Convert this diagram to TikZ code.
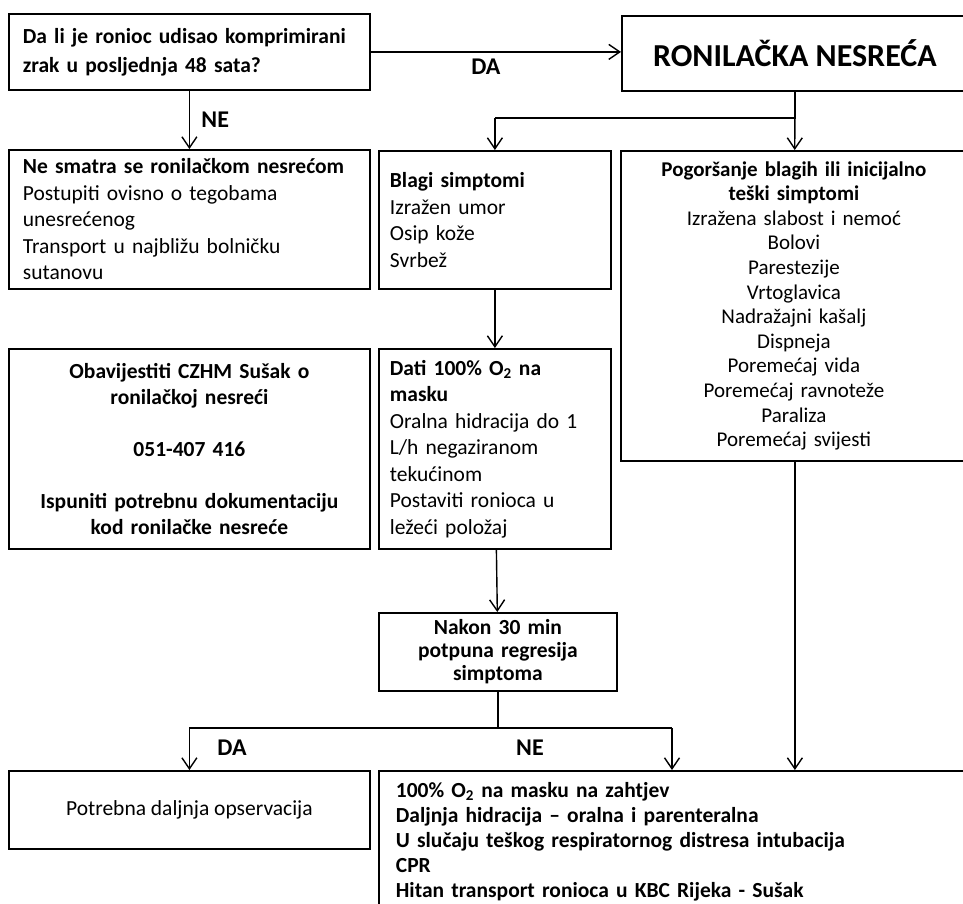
\documentclass[tikz,border=0pt]{standalone}
\usepackage{fontspec}
\setmainfont{Carlito}
\usetikzlibrary{shapes,arrows.meta,positioning}

\begin{document}
\begin{tikzpicture}[x=1pt,y=1pt]
 \tikzset{main node/.style={rectangle, draw, line width=1.8pt,
 		inner xsep=14pt, inner ysep=4pt, font=\fontsize{21.5}{26.5}\selectfont}, }
 \tikzset{left node/.style={main node, align=left}, }
 \tikzset{center node/.style={main node, align=center}, }
 \tikzset{title node/.style={main node, align=center,
 		font=\fontsize{32}{38}\selectfont\bfseries}, }
 \tikzset{label node/.style={font=\fontsize{24}{28}\selectfont\bfseries}, }
 \tikzset{linea/.style={line width=1.4pt,
 		-{Straight Barb[length=11pt,width=15pt,line width=1.4pt]}},}
 \useasboundingbox (0,0) rectangle (963,-903);
 \node[left node, minimum width=361, minimum height=76,
 	text width=333, anchor=north west, font=\fontsize{21.5}{29}\selectfont\bfseries]
 	(1) at (8,-13)
 	{Da li je ronioc udisao komprimirani\\ zrak u posljednja 48 sata?};
 \node[title node, minimum width=346, minimum height=75,
 	anchor=north west] (2) at (621,-15) {RONILAČKA NESREĆA};
 \node[left node, minimum width=361, minimum height=139,
 	text width=333, anchor=north west] (3) at (8,-149)
 	{\textbf{Ne smatra se ronilačkom nesrećom}\\
 	 Postupiti ovisno o tegobama\\ unesrećenog\\
 	 Transport u najbližu bolničku\\ sutanovu};
 \node[left node, minimum width=232, minimum height=138, inner xsep=11pt,
 	text width=210, anchor=north west] (4) at (378,-150)
 	{\textbf{Blagi simptomi}\\ Izražen umor\\ Osip kože\\ Svrbež};
 \node[center node, minimum width=346, minimum height=310,
 	text width=318, anchor=north west, font=\fontsize{21}{24.6}\selectfont]
 	(5) at (620,-150)
 	{\textbf{Pogoršanje blagih ili inicijalno}\\ \textbf{teški simptomi}\\
 	 Izražena slabost i nemoć\\ Bolovi\\ Parestezije\\ Vrtoglavica\\
 	 Nadražajni kašalj\\ Dispneja\\ Poremećaj vida\\
 	 Poremećaj ravnoteže\\ Paraliza\\ Poremećaj svijesti};
 \node[center node, minimum width=361, minimum height=200,
 	text width=333, anchor=north west, font=\fontsize{21.5}{26}\selectfont\bfseries]
 	(6) at (8,-348)
 	{Obavijestiti CZHM Sušak o\\ ronilačkoj nesreći\\[26pt]
 	 051-407 416\\[26pt]
 	 Ispuniti potrebnu dokumentaciju\\ kod ronilačke nesreće};
 \node[left node, minimum width=232, minimum height=200, inner xsep=11pt,
 	text width=210, anchor=north west] (7) at (378,-348)
 	{\textbf{Dati 100\% O\textsubscript{2} na}\\ \textbf{masku}\\
 	 Oralna hidracija do 1\\ L/h negaziranom\\ tekućinom\\
 	 Postaviti ronioca u\\ ležeći položaj};
 \node[center node, minimum width=232, minimum height=78,
 	text width=210, anchor=north west, font=\fontsize{21.5}{23}\selectfont\bfseries]
 	(8) at (378,-612)
 	{Nakon 30 min\\ potpuna regresija\\ simptoma};
 \node[center node, minimum width=361, minimum height=78,
 	anchor=north west] (9) at (8,-770) {Potrebna daljnja opservacija};
 \node[left node, minimum width=590, minimum height=142, inner xsep=16pt,
 	text width=556, anchor=north west, font=\fontsize{21.5}{25}\selectfont\bfseries]
 	(10) at (378,-770)
 	{100\% O\textsubscript{2} na masku na zahtjev\\
 	 Daljnja hidracija -- oralna i parenteralna\\
 	 U slučaju teškog respiratornog distresa intubacija\\
 	 CPR\\
 	 Hitan transport ronioca u KBC Rijeka - Sušak};
 % grananje
 \coordinate (r1) at (2.south |- 0,-118);
 \coordinate (r2) at (4.north |- r1);
 \coordinate (n1) at (8.south |- 0,-728);
 \coordinate (n2) at (9.north |- n1);
 \coordinate (n3) at (672,-728);
 \path[linea] (1) edge node[label node, below=3pt, pos=0.46] {DA} (1 -| 2.west);
 \path[linea] (1.south) edge node[label node, right=8pt] {NE} (3.north -| 1.south);
 \draw[line width=1.4pt] (2.south) -- (r1) -- (r2);
 \path[linea] (r1) edge (5);
 \path[linea] (r2) edge (4);
 \path[linea] (4) edge (7);
 \path[linea] (7) edge (8);
 \draw[line width=1.4pt] (8.south) -- (n1) -- (n2);
 \draw[line width=1.4pt] (n1) -- (n3);
 \path[linea] (n2) edge (9);
 \path[linea] (n3) edge (n3 |- 10.north);
 \node[label node] (da) at (232,-748) {DA};
 \node[label node] (ne) at (530,-748) {NE};
 \path[linea] (5.south -| r1) edge (r1 |- 10.north);
 % 
\end{tikzpicture}
\end{document}
